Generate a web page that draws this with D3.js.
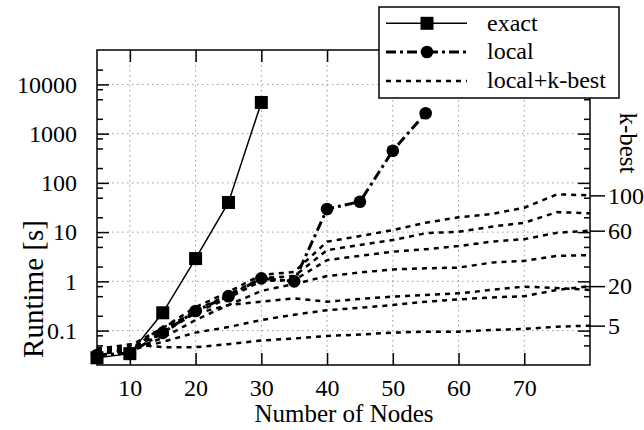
<!DOCTYPE html>
<html><head><meta charset="utf-8">
<script src="https://cdn.jsdelivr.net/npm/d3@7"></script>
<style>
body{margin:0;background:#fff}
svg{display:block}
svg text{font-family:"Liberation Serif","Tinos","Times New Roman","DejaVu Serif","Noto Serif",serif !important;fill:#000}
</style>
</head><body>
<svg id="chart" width="644" height="430"></svg>
<script>
// ---------- data ----------
const nodes = [5,10,15,20,25,30,35,40,45,50,55,60,65,70,75,80];
const exactNodes = [5,10,15,20,25,30];
const exactRuntime = [0.028,0.034,0.23,2.9,40,4300];
const localNodes = [5,10,15,20,25,30,35,40,45,50,55];
const localRuntime = [0.032,0.035,0.09,0.25,0.5,1.15,1.0,29.5,41.5,450,2600];
const kValues = [100,80,60,40,20,10,5];
const kbest100 = [0.044,0.049,0.113,0.30,0.61,1.35,1.55,6.4,8.3,11.0,15.5,20,23.3,31.3,58.6,55.8];
const kbest80  = [0.040,0.044,0.098,0.26,0.53,1.17,1.28,4.3,5.5,6.9,9.5,10.2,12.9,15.5,25.6,24.1];
const kbest60  = [0.037,0.042,0.089,0.23,0.46,1.02,1.06,2.7,3.3,4.0,4.5,5.2,6.4,7.2,9.7,10.7];
const kbest40  = [0.035,0.040,0.071,0.164,0.33,0.64,0.88,1.28,1.51,1.75,1.84,1.9,2.4,2.6,3.3,3.4];
const kbest20  = [0.033,0.040,0.059,0.091,0.118,0.164,0.21,0.26,0.29,0.33,0.385,0.43,0.47,0.50,0.67,0.80];
const kbest10  = [0.035,0.040,0.12,0.22,0.33,0.385,0.45,0.385,0.44,0.49,0.53,0.57,0.67,0.78,0.73,0.67];
const kbest5   = [0.042,0.053,0.046,0.046,0.053,0.063,0.069,0.078,0.083,0.091,0.095,0.095,0.103,0.108,0.12,0.126];
const kbestSeries = [kbest100,kbest80,kbest60,kbest40,kbest20,kbest10,kbest5];
const kLabelled = [100,60,20,5];
const xTickValues = [10,20,30,40,50,60,70];
const yTickValues = [0.1,1,10,100,1000,10000];
const yTickLabels = ["0.1","1","10","100","1000","10000"];
const yMinorFactors = [2,5,8];
const legendLabels = ["exact","local","local+k-best"];
const xTitle = "Number of Nodes", yTitle = "Runtime [s]", y2Title = "k-best";

// ---------- layout ----------
const FONT = '"Liberation Serif","Tinos","Times New Roman","DejaVu Serif",serif';
const L = 97, R = 590, T = 50, B = 365;
const svg = d3.select("#chart");
const x = d3.scaleLinear().domain([5,80]).range([L,R]);
const y = d3.scaleLog().domain([0.02,50000]).range([B,T]);

const minorVals = [];
for (let e = -2; e <= 4; e++) yMinorFactors.forEach(f => {
  const v = f * Math.pow(10, e);
  if (v > 0.02 && v < 50000) minorVals.push(v);
});

// grid
const grid = svg.append("g").attr("stroke","#999").attr("stroke-width",1).attr("stroke-dasharray","1.5,3.5");
grid.selectAll("line.v").data(xTickValues).join("line").attr("class","v")
  .attr("x1",d=>x(d)).attr("x2",d=>x(d)).attr("y1",T).attr("y2",B);
grid.selectAll("line.h").data(yTickValues).join("line").attr("class","h")
  .attr("x1",L).attr("x2",R).attr("y1",d=>y(d)).attr("y2",d=>y(d));

// axes
function styleAxis(g){
  g.attr("font-family",FONT).attr("font-size",24);
  g.select(".domain").remove();
  g.selectAll(".tick line").attr("stroke","#000").attr("stroke-width",1.5);
  g.selectAll("text").style("font-family",FONT).attr("font-size",24).attr("fill","#000");
}
svg.append("g").attr("transform",`translate(0,${B})`)
  .call(d3.axisBottom(x).tickValues(xTickValues).tickSizeInner(-12).tickSizeOuter(0).tickPadding(14).tickFormat(d3.format("d")))
  .call(styleAxis);
svg.append("g").attr("transform",`translate(0,${T})`)
  .call(d3.axisTop(x).tickValues(xTickValues).tickSizeInner(-12).tickSizeOuter(0).tickFormat(""))
  .call(styleAxis);
svg.append("g").attr("transform",`translate(${L},0)`)
  .call(d3.axisLeft(y).tickValues(yTickValues).tickSizeInner(-12).tickSizeOuter(0).tickPadding(20)
    .tickFormat((d,i)=>yTickLabels[i]))
  .call(styleAxis);
svg.append("g").attr("transform",`translate(${L},0)`)
  .call(d3.axisLeft(y).tickValues(minorVals).tickSizeInner(-6).tickSizeOuter(0).tickFormat(""))
  .call(styleAxis);
svg.append("g").attr("transform",`translate(${R},0)`)
  .call(d3.axisRight(y).tickValues(yTickValues).tickSizeInner(-12).tickSizeOuter(0).tickFormat(""))
  .call(styleAxis);
svg.append("g").attr("transform",`translate(${R},0)`)
  .call(d3.axisRight(y).tickValues(minorVals).tickSizeInner(-6).tickSizeOuter(0).tickFormat(""))
  .call(styleAxis);

// k-best right axis: ticks at the end of labelled k-best curves
const kEnds = kLabelled.map(k => kbestSeries[kValues.indexOf(k)][nodes.length-1]);
svg.append("g").attr("transform",`translate(${R},0)`)
  .call(d3.axisRight(y).tickValues(kEnds).tickSizeInner(15).tickSizeOuter(0).tickPadding(3)
    .tickFormat((d,i)=>String(kLabelled[i])))
  .call(styleAxis);

// frame
svg.append("rect").attr("x",L).attr("y",T).attr("width",R-L).attr("height",B-T)
  .attr("fill","none").attr("stroke","#000").attr("stroke-width",1.5);

// lines
const line = d3.line().x(d=>x(d[0])).y(d=>y(d[1]));
kbestSeries.forEach(s => {
  svg.append("path").datum(nodes.map((n,i)=>[n,s[i]])).attr("d",line)
    .attr("fill","none").attr("stroke","#000").attr("stroke-width",2.5).attr("stroke-dasharray","5,5");
});
const exactData = exactNodes.map((n,i)=>[n,exactRuntime[i]]);
const localData = localNodes.map((n,i)=>[n,localRuntime[i]]);
svg.append("path").datum(localData).attr("d",line).attr("fill","none").attr("stroke","#000")
  .attr("stroke-width",3).attr("stroke-dasharray","10,4,3,4");
svg.append("path").datum(exactData).attr("d",line).attr("fill","none").attr("stroke","#000").attr("stroke-width",1.5);
svg.selectAll("circle.loc").data(localData).join("circle").attr("class","loc")
  .attr("cx",d=>x(d[0])).attr("cy",d=>y(d[1])).attr("r",6.3).attr("fill","#000");
svg.selectAll("rect.ex").data(exactData).join("rect").attr("class","ex")
  .attr("x",d=>x(d[0])-6.5).attr("y",d=>y(d[1])-6.5).attr("width",13).attr("height",13).attr("fill","#000");

// titles
svg.append("text").attr("x",344).attr("y",422).attr("text-anchor","middle").attr("font-size",25).text(xTitle);
svg.append("text").attr("transform","translate(33,289) rotate(-90)").attr("dy","0.35em").attr("text-anchor","middle")
  .attr("font-size",29).text(yTitle);
svg.append("text").attr("transform","translate(629,143) rotate(90)").attr("dy","0.35em").attr("text-anchor","middle").attr("font-size",25).text(y2Title);

// legend
const lg = svg.append("g");
lg.append("rect").attr("x",379).attr("y",7).attr("width",240).attr("height",91)
  .attr("fill","#fff").attr("stroke","#000").attr("stroke-width",1.5);
const rowY = [23.3,52,81];
const styles = [
  {w:1.5, dash:null, marker:"square"},
  {w:3, dash:"10,4,3,4", marker:"circle"},
  {w:2.5, dash:"5,5", marker:null}
];
legendLabels.forEach((lab,i)=>{
  const st = styles[i];
  const ln = lg.append("line").attr("x1",386).attr("x2",467).attr("y1",rowY[i]).attr("y2",rowY[i])
    .attr("stroke","#000").attr("stroke-width",st.w);
  if (st.dash) ln.attr("stroke-dasharray",st.dash);
  if (st.marker==="square") lg.append("rect").attr("x",427-6.5).attr("y",rowY[i]-6.5).attr("width",13).attr("height",13);
  if (st.marker==="circle") lg.append("circle").attr("cx",427).attr("cy",rowY[i]).attr("r",6.3);
  lg.append("text").attr("x",487).attr("y",rowY[i]).attr("dy","0.3em").attr("font-size",24).text(lab);
});
</script>
</body></html>
